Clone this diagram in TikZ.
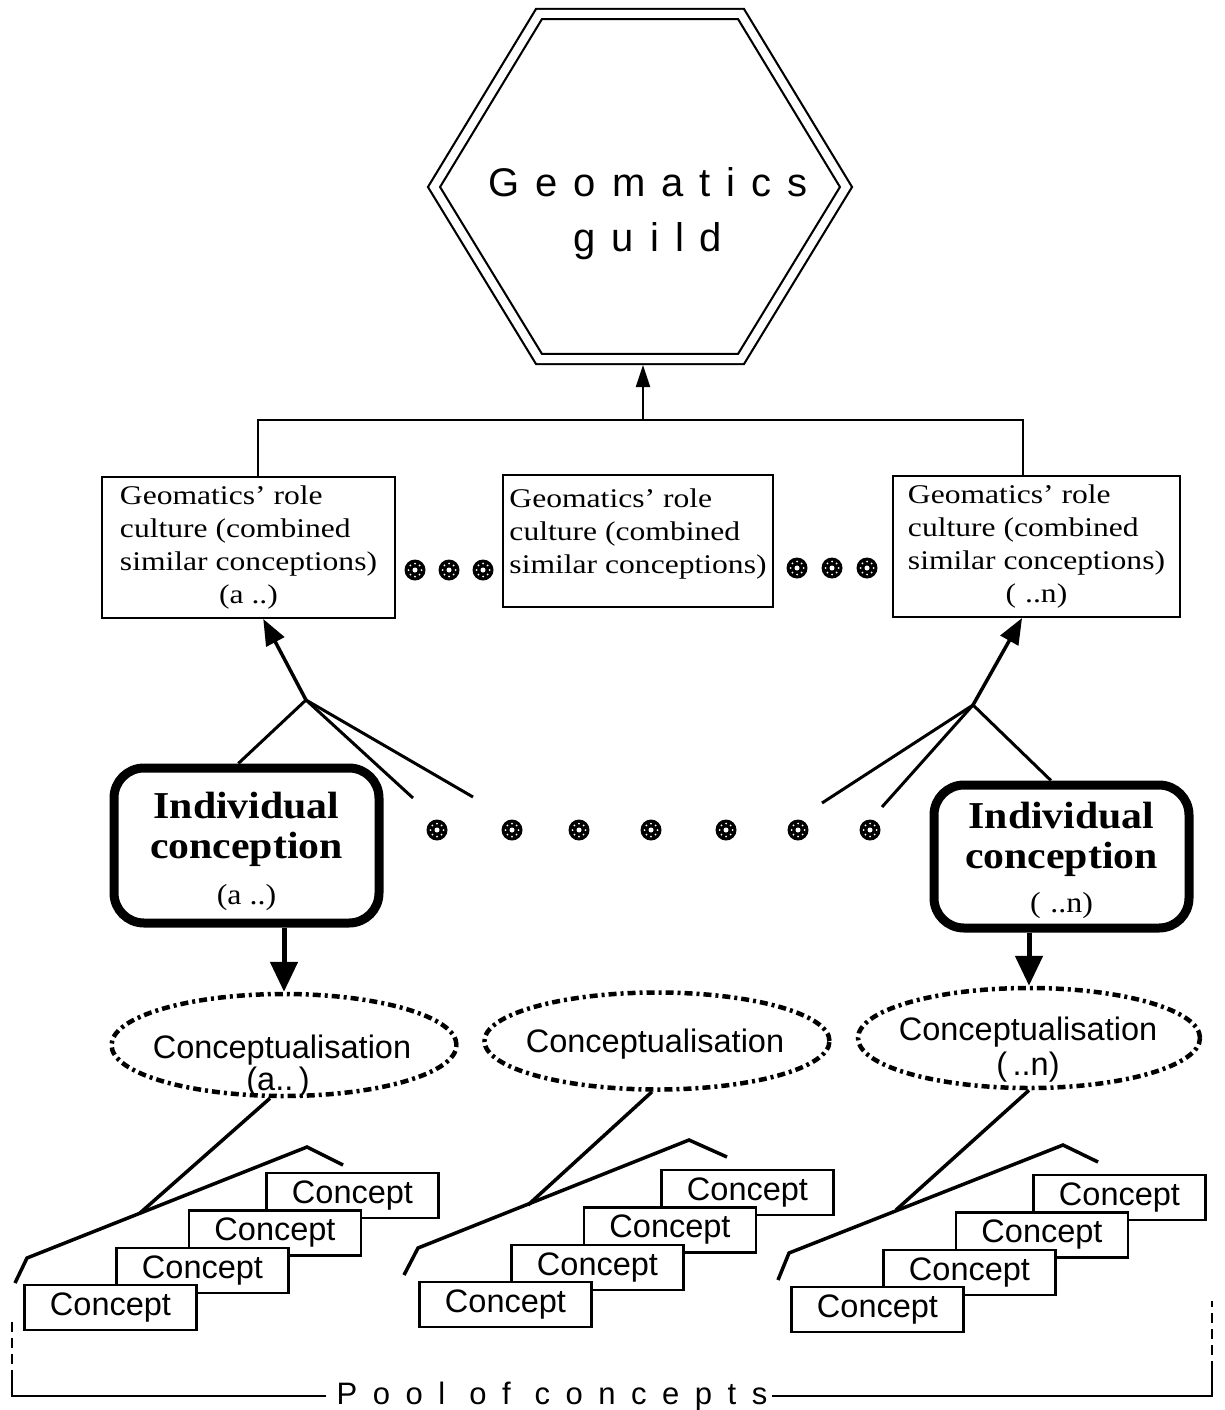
\documentclass[tikz,border=0pt]{standalone}
\usepackage{fontspec}
\setmainfont{Liberation Serif}
\newfontfamily\boxfont[FakeStretch=1.17]{Liberation Serif}
\newfontfamily\icfont[FakeStretch=1.1]{Liberation Serif}
\newfontfamily\sansf{Liberation Sans}
\newfontfamily\guildfont[LetterSpace=40]{Liberation Sans}
\newfontfamily\poolfont[LetterSpace=50]{Liberation Sans}
\usetikzlibrary{shapes.geometric,arrows.meta,calc}
\begin{document}
\begin{tikzpicture}[x=1pt,y=-1pt,
  rolebox/.style={draw, line width=2pt, inner sep=0pt, font=\boxfont\fontsize{27}{33}\selectfont},
  icbox/.style={draw, line width=9pt, rounded corners=30pt, inner sep=0pt, font=\icfont\fontsize{38}{40}\selectfont},
  conceptbox/.style={draw, line width=2.5pt, fill=white, minimum width=172pt, minimum height=45pt, inner sep=0pt, font=\sansf\fontsize{32.5}{36}\selectfont},
  cellipse/.style={ellipse, draw, line width=4.5pt, dash pattern=on 8pt off 4pt on 3pt off 4pt, inner sep=0pt},
  ctext/.style={font=\sansf\fontsize{32.5}{36}\selectfont, inner sep=0pt, anchor=base},
  conn/.style={line width=2pt},
  brk/.style={line width=3.5pt},
  branch/.style={line width=3pt},
  midarr/.style={line width=3.5pt, -{Triangle[length=26pt,width=20pt]}},
  bigarr/.style={line width=5pt, -{Triangle[length=30pt,width=27pt]}},
  smallarr/.style={line width=2pt, -{Triangle[length=22pt,width=14pt]}},
  dotmark/.style={circle, fill=black, minimum size=21pt, inner sep=0pt, path picture={
      \fill[white] (path picture bounding box.center) circle[radius=2.5pt];
      \foreach \a in {0,45,...,315}
        \fill[white] ([shift={(\a:6.5pt)}]path picture bounding box.center) circle[radius=1pt];
    }},
]
\useasboundingbox (0,0) rectangle (1224,1410);
\fill[white] (0,0) rectangle (1224,1410);

% ---------- hexagon ----------
\draw[line width=2.2pt, double distance=8pt] (539,14) -- (741,14) -- (846,187) -- (741,359) -- (539,359) -- (434,187) -- cycle;
\node[font=\guildfont\fontsize{40}{55}\selectfont, inner sep=0pt, anchor=base] (guild) at (648,196)
  {\begin{tabular}[t]{@{}c@{}}Geomatics\\guild\end{tabular}};
\coordinate (hexb) at (643,365);
\coordinate (bus) at (643,420);
\draw[smallarr] (bus) -- (hexb);

% ---------- role culture boxes ----------
\node[rolebox, minimum width=293pt, minimum height=141pt] (box1) at (248.5,547.5)
  {\begin{tabular}{@{}l@{}}Geomatics’ role\\culture (combined\\similar conceptions)\\\multicolumn{1}{@{}c@{}}{(a ..)}\end{tabular}};
\node[rolebox, minimum width=270pt, minimum height=132pt] (box2) at (638,541)
  {\begin{tabular}{@{}l@{}}Geomatics’ role\\culture (combined\\similar conceptions)\rule[-25pt]{0pt}{0pt}\end{tabular}};
\node[rolebox, minimum width=287pt, minimum height=141pt] (box3) at (1036.5,546.5)
  {\begin{tabular}{@{}l@{}}Geomatics’ role\\culture (combined\\similar conceptions)\\\multicolumn{1}{@{}c@{}}{(\,\,..n)}\end{tabular}};

\coordinate (b1top) at ($(box1.north west)!0.533!(box1.north east)$);
\coordinate (b3top) at ($(box3.north west)!0.453!(box3.north east)$);
\draw[conn] (b1top) |- (bus) -| (b3top);

% dots between boxes
\node[dotmark] (u1) at (415,570) {};
\node[dotmark] (u2) at (449,570) {};
\node[dotmark] (u3) at (483,570) {};
\node[dotmark] (u4) at (797,568) {};
\node[dotmark] (u5) at (832,568) {};
\node[dotmark] (u6) at (867,568) {};

% ---------- individual conceptions ----------
\node[icbox, minimum width=265pt, minimum height=155pt] (ic1) at (246.5,845.5)
  {\begin{tabular}{@{}c@{}}\rule{0pt}{43pt}\bfseries Individual\\\bfseries conception\\[6pt]\fontsize{29}{30}\selectfont(a ..)\end{tabular}};
\node[icbox, minimum width=255pt, minimum height=143pt] (ic2) at (1061.5,856.5)
  {\begin{tabular}{@{}c@{}}\rule{0pt}{40pt}\bfseries Individual\\\bfseries conception\\[4pt]\fontsize{29}{30}\selectfont(\,\,..n)\end{tabular}};

% branches
\coordinate (j1) at (306,700);
\coordinate (j2) at (973,705);
\coordinate (f1) at (413,798);
\coordinate (f2) at (473,797);
\coordinate (f3) at (822,803);
\coordinate (f4) at (882,807);
\draw[midarr] (j1) -- ($(box1.south west)!0.55!(box1.south east)$);
\draw[branch] (j1) -- ($(ic1.north west)!0.47!(ic1.north east)$);
\draw[branch] (j1) -- (f1);
\draw[branch] (j1) -- (f2);
\draw[midarr] (j2) -- ($(box3.south west)!0.45!(box3.south east)$);
\draw[branch] (j2) -- ($(ic2.north west)!0.46!(ic2.north east)$);
\draw[branch] (j2) -- (f3);
\draw[branch] (j2) -- (f4);

% row of dots
\node[dotmark] (m1) at (437,830) {};
\node[dotmark] (m2) at (512,830) {};
\node[dotmark] (m3) at (579,830) {};
\node[dotmark] (m4) at (651,830) {};
\node[dotmark] (m5) at (726,830) {};
\node[dotmark] (m6) at (798,830) {};
\node[dotmark] (m7) at (870,830) {};

% ---------- conceptualisations ----------
\node[cellipse, minimum width=345pt, minimum height=102pt] (ell1) at (284,1045) {};
\node[cellipse, minimum width=345pt, minimum height=97pt] (ell2) at (657,1041) {};
\node[cellipse, minimum width=342pt, minimum height=100pt] (ell3) at (1029,1038) {};
\node[ctext] (ell1a) at (282,1058) {Conceptualisation};
\node[ctext] (ell1b) at (278,1090) {(a..\,)};
\node[ctext] (ell2a) at (655,1052) {Conceptualisation};
\node[ctext] (ell3a) at (1028,1040) {Conceptualisation};
\node[ctext] (ell3b) at (1028,1075) {(\,..n)};

\draw[bigarr] (ell1.north |- ic1.south) -- (ell1.north);
\draw[bigarr] (ell3.north |- ic2.south) -- (ell3.north);

% ---------- concept stacks ----------
\foreach \dx/\dy/\s in {0/0/L, 395/-3/M, 767/2/R}{
  \begin{scope}[shift={(\dx,\dy)}]
    \node[conceptbox] (c\s4) at (352.5,1195.5) {Concept};
    \node[conceptbox] (c\s3) at (275,1233) {Concept};
    \node[conceptbox] (c\s2) at (202.5,1270.5) {Concept};
    \node[conceptbox] (c\s1) at (110.5,1307.5) {Concept};
  \end{scope}
}

% brackets
\coordinate (la) at (15,1283);
\coordinate (lb) at (27,1258);
\coordinate (lj) at (140,1213);
\coordinate (lp) at (307,1147);
\coordinate (le) at (343,1165);
\draw[brk] (la) -- (lb) -- (lp) -- (le);
\draw[brk] ([xshift=-14pt]ell1.south) -- (lj);

\coordinate (ma) at (404,1275);
\coordinate (mb) at (418,1248);
\coordinate (mj) at (528,1205);
\coordinate (mp) at (689,1140);
\coordinate (me) at (727,1157);
\draw[brk] (ma) -- (mb) -- (mp) -- (me);
\draw[brk] ([xshift=-5pt]ell2.south) -- (mj);

\coordinate (ra) at (778,1280);
\coordinate (rb) at (789,1253);
\coordinate (rj) at (896,1210);
\coordinate (rp) at (1063,1145);
\coordinate (re) at (1098,1162);
\draw[brk] (ra) -- (rb) -- (rp) -- (re);
\draw[brk] (ell3.south) -- (rj);

% ---------- pool of concepts ----------
\node[font=\poolfont\fontsize{31}{34}\selectfont, inner sep=0pt, anchor=base] (pool) at (552,1404) {Pool of concepts};
\coordinate (pl) at (12,1393);
\coordinate (pr) at (1212,1393);
\draw[conn] ([xshift=-10pt]pool.west) -- (pool.west -| pl) -- ++(0,-16) coordinate (pl2);
\draw[conn, dash pattern=on 10pt off 6pt] (pl2) -- ++(0,-60);
\draw[conn] ([xshift=4pt]pool.east) -- (pool.east -| pr) -- ++(0,-25) coordinate (pr2);
\draw[conn, dash pattern=on 10pt off 6pt] (pr2) -- ++(0,-70);
\end{tikzpicture}
\end{document}
